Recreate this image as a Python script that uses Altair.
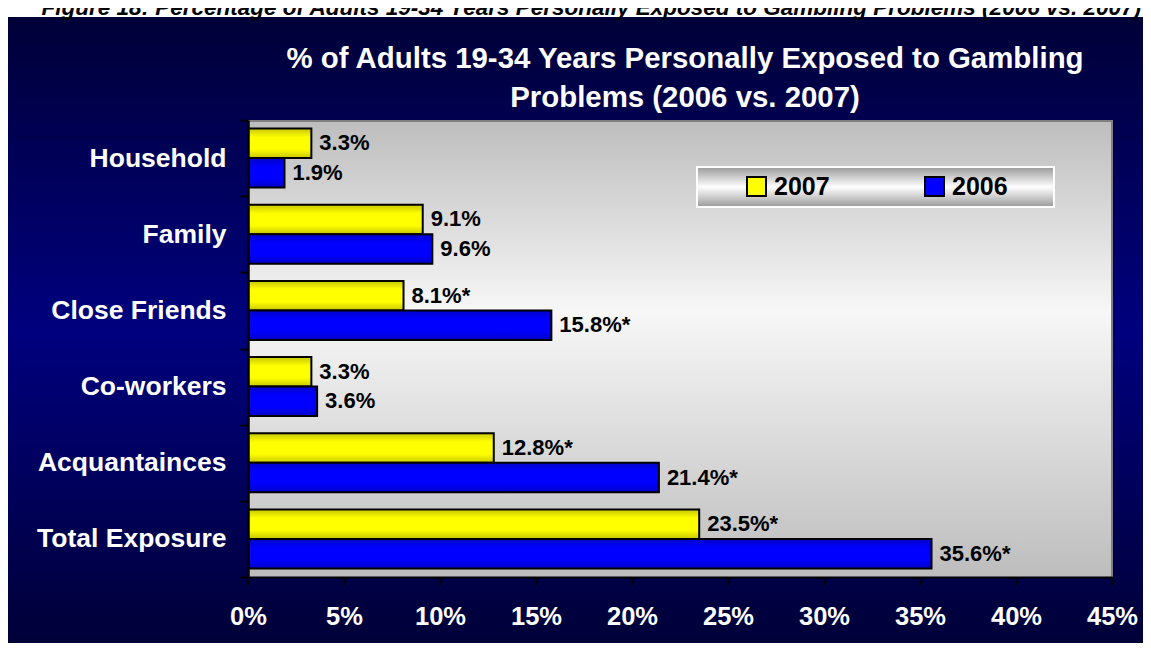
import altair as alt
import pandas as pd

# ---------------- data ----------------
categories = ["Household", "Family", "Close Friends", "Co-workers", "Acquantainces", "Total Exposure"]
years = ["2007", "2006"]
values_2007 = [3.3, 9.1, 8.1, 3.3, 12.8, 23.5]
values_2006 = [1.9, 9.6, 15.8, 3.6, 21.4, 35.6]
significant = [False, False, True, False, True, True]
x_ticks = [0, 5, 10, 15, 20, 25, 30, 35, 40, 45]
series_colors = ["#FFFF00", "#0000FF"]
caption = "Figure 18: Percentage of Adults 19-34 Years Personally Exposed to Gambling Problems (2006 vs. 2007)"
title_lines = ["% of Adults 19-34 Years Personally Exposed to Gambling", "Problems (2006 vs. 2007)"]

rows = []
for i, c in enumerate(categories):
    for y, vals in zip(years, [values_2007, values_2006]):
        v = vals[i]
        rows.append({"category": c, "year": y, "value": v,
                     "label": f"{v:.1f}%" + ("*" if significant[i] else "")})
df = pd.DataFrame(rows)

W, H = 864, 457
FONT = "Liberation Sans"
one = pd.DataFrame({"k": [0]})


def grad(stops):
    return {"gradient": "linear", "x1": 0, "y1": 0, "x2": 0, "y2": 1,
            "stops": [{"offset": o, "color": c} for o, c in stops]}


# ---------------- decorations ----------------
bg = alt.Chart(one).mark_rect(
    fill=grad([(0, "#000038"), (0.5, "#00007e"), (1, "#000038")])
).encode(x=alt.value(-240), x2=alt.value(W + 31), y=alt.value(-103), y2=alt.value(H + 66))

plotbg = alt.Chart(one).mark_rect(
    fill=grad([(0, "#bdbdbd"), (0.42, "#f7f7f7"), (1, "#bdbdbd")])
).encode(x=alt.value(0), x2=alt.value(W), y=alt.value(0), y2=alt.value(H))

wall_top = alt.Chart(one).mark_rule(color="#808080", strokeWidth=2).encode(
    x=alt.value(0), x2=alt.value(W), y=alt.value(1))
wall_right = alt.Chart(one).mark_rule(color="#808080", strokeWidth=2).encode(
    x=alt.value(W), y=alt.value(0), y2=alt.value(H))

legbox = alt.Chart(one).mark_rect(
    fill=grad([(0, "#9a9a9a"), (0.5, "#ffffff"), (1, "#9a9a9a")]),
    stroke="white", strokeWidth=2
).encode(x=alt.value(449), x2=alt.value(806), y=alt.value(47), y2=alt.value(87))

# ---------------- encodings ----------------
x_enc = alt.X(
    "value:Q",
    scale=alt.Scale(domain=[0, 45], nice=False),
    axis=alt.Axis(values=x_ticks, labelExpr="datum.value + '%'", title=None, grid=False,
                  labelFont=FONT, labelFontSize=25.5, labelFontWeight="bold", labelColor="white",
                  labelPadding=19, tickSize=8, tickColor="black", tickWidth=2,
                  domainColor="black", domainWidth=2, zindex=1,
                  labelFlush=False, labelOverlap=False),
)
y_enc = alt.Y(
    "category:N", sort=categories,
    scale=alt.Scale(paddingInner=0, paddingOuter=0),
    axis=alt.Axis(title=None, labelFont=FONT, labelFontSize=26.5, labelFontWeight="bold",
                  labelColor="white", labelPadding=14, tickSize=8, tickBand="extent",
                  tickColor="black", tickWidth=2, domainColor="black", domainWidth=2.5,
                  zindex=1, labelLimit=0),
)
yoff_enc = alt.YOffset("year:N", sort=years,
                       scale=alt.Scale(paddingInner=0, paddingOuter=0.29))

base = alt.Chart(df)

bars = base.mark_bar(stroke="black", strokeWidth=2, opacity=1).encode(
    x=x_enc, y=y_enc, yOffset=yoff_enc,
    color=alt.Color("year:N", sort=years,
                    scale=alt.Scale(domain=years, range=series_colors),
                    legend=alt.Legend(title=None, orient="none", legendX=496, legendY=54,
                                      direction="horizontal", symbolType="square",
                                      symbolSize=361, symbolStrokeColor="black",
                                      symbolStrokeWidth=2, symbolOpacity=1,
                                      labelFont=FONT, labelFontSize=25, labelFontWeight="bold",
                                      labelColor="black", labelOffset=5, columnPadding=91,
                                      padding=0, zindex=2)),
)

shade = base.mark_bar(
    fill=grad([(0, "rgba(0,0,0,0.22)"), (0.3, "rgba(0,0,0,0)"),
               (0.7, "rgba(0,0,0,0)"), (1, "rgba(0,0,0,0.22)")]),
    strokeWidth=0,
).encode(x=x_enc, y=y_enc, yOffset=yoff_enc)

labels = base.mark_text(
    align="left", baseline="middle", dx=8, font=FONT, fontSize=22,
    fontWeight="bold", color="black"
).encode(x=x_enc, y=y_enc, yOffset=yoff_enc, text="label:N")

cap = alt.Chart(one).mark_text(
    text=caption, align="right", baseline="alphabetic", font=FONT, fontSize=22.5,
    fontStyle="italic", fontWeight="bold", color="black"
).encode(x=alt.value(893), y=alt.value(-105))

title = alt.Chart(one).mark_text(
    text=title_lines, align="center", baseline="alphabetic", lineHeight=39,
    font=FONT, fontSize=29.4, fontWeight="bold", color="white"
).encode(x=alt.value(437), y=alt.value(-52))

chart = alt.layer(
    bg, plotbg, wall_top, wall_right, legbox, bars, shade, labels, cap, title
).properties(
    width=W, height=H,
    autosize=alt.AutoSizeParams(type="none"),
    padding={"left": 240, "top": 112, "right": 31, "bottom": 66},
    background="white",
).configure_view(stroke=None)

chart.save("out.html", embed_options={"renderer": "svg", "actions": False})
